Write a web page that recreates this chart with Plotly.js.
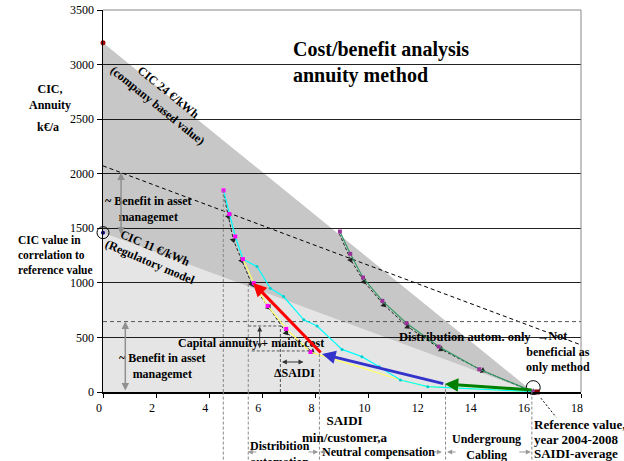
<!DOCTYPE html>
<html><head><meta charset="utf-8">
<script src="https://cdn.plot.ly/plotly-3.0.1.min.js"></script>
<style>html,body{margin:0;padding:0;background:#fff}#chart{width:624px;height:461px}</style>
</head><body><div id="chart"></div>
<script>
// ---- data ----
const xTickVals = [0, 2, 4, 6, 8, 10, 12, 14, 16, 18];
const yTickVals = [0, 500, 1000, 1500, 2000, 2500, 3000, 3500];
const refSaidi = 16.2;
const cicX = [0, 16.2];
const cic24 = [3200, 0];
const cic11 = [1460, 0];
const benefitX = [0, 17.96];
const benefitY = [2072, 435];
const benefitLevelX = [0, 18];
const benefitLevelY = [645, 645];

const leftX = [4.54, 4.76, 4.98, 5.27, 5.68, 6.2, 6.9, 7.81];
const leftY = [1847, 1630, 1425, 1217, 997, 789, 578, 367];
const yellowX = [5.27, 5.68, 6.2, 6.9, 7.81, 8.2, 9.7, 11.2, 12.23, 16.2];
const yellowY = [1217, 997, 789, 578, 367, 335, 225, 110, 49, 2];
const cyanX = [4.54, 4.76, 4.98, 5.27, 5.8, 6.3, 6.8, 7.56, 8.06, 9.0, 9.75, 10.4, 11.2, 12.23, 16.2];
const cyanY = [1847, 1630, 1425, 1217, 1150, 951, 875, 661, 605, 390, 324, 232, 110, 49, 3];
const greenX = [8.92, 9.31, 9.79, 10.52, 11.43, 12.64, 14.17, 16.2];
const greenY = [1470, 1266, 1049, 835, 630, 416, 208, 3];
const pathLeftX = [4.51, 4.73, 4.91, 5.23, 5.6, 6.24, 6.9, 7.88];
const pathLeftY = [1851, 1607, 1393, 1203, 990, 776, 543, 369];
const pathRightX = [8.9, 9.33, 9.83, 10.58, 11.47, 12.73, 14.3, 16.2];
const pathRightY = [1450, 1210, 1011, 797, 599, 391, 195, 0];

const stepX = [16.2, 12.87, 8.25, 5.65];
const stepY = [18, 73, 348, 1000];
const stepColors = ['#008000', '#3333cc', '#ff0000'];

const guideX = [4.53, 5.47, 8.15, 12.9, 16.15];
const guideTop = [1850, 1000, 367, 70, 0];

const annuityX = [5.47, 6.79];      // upper bracket line
const annuityTopY = 605;
const annuityLowX = [5.6, 7.8];     // lower bracket line
const annuityLowY = 376;
const annuityArrowX = 5.9;
const dSaidiX = [6.68, 7.55];
const dSaidiY = 275;

const FONT = 'Liberation Serif, Times New Roman, serif';

// ---- traces ----
const traces = [
  {x: cicX, y: cic11, mode: 'lines', fill: 'tozeroy', fillcolor: 'rgba(0,0,0,0.1)', line: {width: 0}, hoverinfo: 'skip'},
  {x: cicX, y: cic24, mode: 'lines', fill: 'tonexty', fillcolor: 'rgba(0,0,0,0.22)', line: {width: 0}, hoverinfo: 'skip'},
  {x: benefitX, y: benefitY, mode: 'lines', line: {color: '#000', width: 1, dash: '4px,3px'}},
  {x: benefitLevelX, y: benefitLevelY, mode: 'lines', line: {color: '#555', width: 1, dash: '4px,3px'}},
  {x: pathLeftX, y: pathLeftY, mode: 'lines+markers', line: {color: '#222', width: 1, dash: '3px,2px'},
   marker: {symbol: 'triangle-up', size: 6, color: '#222', angleref: 'previous'}},
  {x: pathRightX, y: pathRightY, mode: 'lines+markers', line: {color: '#222', width: 1, dash: '3px,2px'},
   marker: {symbol: 'triangle-up', size: 6, color: '#222', angleref: 'previous'}},
  {x: yellowX, y: yellowY, mode: 'lines', line: {color: '#ffff66', width: 1.2}},
  {x: cyanX, y: cyanY, mode: 'lines+markers', line: {color: '#00ffff', width: 1.2},
   marker: {size: 3, color: '#00cccc'}},
  {x: greenX, y: greenY, mode: 'lines+markers', line: {color: '#339966', width: 1.2},
   marker: {symbol: 'square', size: 4, color: '#993399'}},
  {x: leftX, y: leftY, mode: 'markers', marker: {symbol: 'square', size: 4, color: '#ff00ff'}},
  {x: [cicX[0]], y: [cic24[0]], mode: 'markers', cliponaxis: false, marker: {size: 5, color: '#a00000'}},
  {x: [cicX[0]], y: [cic11[0]], mode: 'markers', cliponaxis: false,
   marker: {size: 12, color: 'rgba(0,0,0,0)', line: {color: '#000', width: 1}}},
  {x: [cicX[0]], y: [cic11[0]], mode: 'markers', cliponaxis: false, marker: {size: 4, color: '#000080'}},
  {x: [refSaidi], y: [40], mode: 'markers', cliponaxis: false,
   marker: {size: 14, color: 'rgba(0,0,0,0)', line: {color: '#000', width: 1}}},
  {x: [refSaidi + 0.15], y: [0], mode: 'markers', cliponaxis: false, marker: {symbol: 'square', size: 5, color: '#800000'}}
];

// ---- shapes ----
const shapes = [];
guideX.forEach((gx, i) => {
  if (guideTop[i] > 0) {
    shapes.push({type: 'line', xref: 'x', yref: 'y', x0: gx, x1: gx, y0: 0, y1: guideTop[i],
      line: {color: '#888', width: 1, dash: '3px,2px'}, layer: 'above'});
  }
  shapes.push({type: 'line', xref: 'x', yref: 'paper', x0: gx, x1: gx, y0: -0.19, y1: 0,
    line: {color: '#888', width: 1, dash: '3px,2px'}, layer: 'above'});
});
shapes.push({type: 'line', xref: 'x', yref: 'y', x0: annuityX[0], x1: annuityX[1], y0: annuityTopY, y1: annuityTopY,
  line: {color: '#555', width: 1, dash: '3px,2px'}});
shapes.push({type: 'line', xref: 'x', yref: 'y', x0: annuityLowX[0], x1: annuityLowX[1], y0: annuityLowY, y1: annuityLowY,
  line: {color: '#555', width: 1, dash: '3px,2px'}});
shapes.push({type: 'line', xref: 'x', yref: 'y', x0: dSaidiX[0], x1: dSaidiX[0], y0: 0, y1: annuityTopY,
  line: {color: '#555', width: 1, dash: '3px,2px'}});
// plot border (top/right, grey)
shapes.push({type: 'line', xref: 'paper', yref: 'paper', x0: 1, x1: 1, y0: 0, y1: 1, line: {color: '#888', width: 1}});
shapes.push({type: 'line', xref: 'paper', yref: 'paper', x0: 0, x1: 1, y0: 1, y1: 1, line: {color: '#888', width: 1}});
// pointer from reference circle to its label
shapes.push({type: 'line', xref: 'paper', yref: 'paper', x0: 0.916, y0: -0.016, x1: 0.948, y1: -0.066,
  line: {color: '#000', width: 1, dash: '2px,2px'}});

// ---- annotations ----
const ann = [];
function txt(text, x, y, opt) {
  const o = opt || {};
  const size = o.size || 12;
  delete o.size;
  ann.push(Object.assign({text: text, x: x, y: y, xref: 'paper', yref: 'paper', showarrow: false,
    xanchor: 'center', yanchor: 'middle', font: {family: FONT, size: size, color: '#000'}}, o));
}
txt('<b>Cost/benefit analysis<br>annuity method</b>', 0.393, 0.862, {xanchor: 'left', align: 'left', size: 20});
txt('<b>CIC,<br>Annuity</b>', -0.111, 0.771);
txt('<b>k€/a</b>', -0.115, 0.694);
txt('<b>CIC 24 €/kWh</b>', 0.136, 0.785, {textangle: 39});
txt('<b>(company based value)</b>', 0.113, 0.751, {textangle: 39});
txt('<b>CIC 11 €/kWh</b>', 0.109, 0.377, {textangle: 23});
txt('<b>(Regulatory model</b>', 0.098, 0.340, {textangle: 23});
txt('<b>~ Benefit in asset<br>managemet</b>', 0.096, 0.478);
txt('<b>~ Benefit in asset<br>managemet</b>', 0.1255, 0.069);
txt('<b>CIC value in<br>correlation to<br>reference value</b>', -0.182, 0.358, {xanchor: 'left', align: 'left', size: 11.5});
txt('<b>Capital annuity + maint.cost</b>', 0.3086, 0.128);
txt('<b>ΔSAIDI</b>', 0.3996, 0.050);
txt('<b>Distribution autom. only  →</b>', 0.615, 0.144, {xanchor: 'left', size: 12.5});
txt('<b>Not<br>beneficial as<br>only method</b>', 0.952, 0.106);
txt('<b>SAIDI<br>min/customer,a</b>', 0.506, -0.097, {size: 13});
txt('<b>Distribition<br>automation</b>', 0.370, -0.118, {yanchor: 'top'});
txt('<b>Neutral compensation</b>', 0.577, -0.157);
txt('<b>Undergroung<br>Cabling</b>', 0.803, -0.144);
txt('<b>Reference value,</b>', 0.8975, -0.086, {xanchor: 'left', size: 13});
txt('<b>year 2004-2008</b>', 0.8975, -0.124, {xanchor: 'left', size: 13});
txt('<b>SAIDI-average</b>', 0.8975, -0.162, {xanchor: 'left', size: 13});

// thick step arrows (green, blue, red)
for (let i = 0; i < 3; i++) {
  ann.push({text: '', xref: 'x', yref: 'y', axref: 'x', ayref: 'y',
    x: stepX[i + 1], y: stepY[i + 1], ax: stepX[i], ay: stepY[i],
    showarrow: true, arrowhead: 2, arrowsize: 0.9, arrowwidth: 3, arrowcolor: stepColors[i]});
}
// double arrows
function dbl(x, y, ax, ay, color, w, size) {
  ann.push({text: '', xref: 'x', yref: 'y', axref: 'x', ayref: 'y', x: x, y: y, ax: ax, ay: ay,
    showarrow: true, arrowhead: 2, arrowside: 'end+start', arrowsize: size, arrowwidth: w, arrowcolor: color});
}
dbl(0.68, benefitY[0] - 0.68 * 91, 0.68, cic11[0] - 0.68 * 90 + 30, '#909090', 1.5, 1);
dbl(0.84, benefitLevelY[0], 0.84, 0, '#909090', 1.5, 1);
dbl(annuityArrowX, annuityTopY - 5, annuityArrowX, annuityLowY + 10, '#333', 1, 1);
dbl(dSaidiX[1], dSaidiY, dSaidiX[0], dSaidiY, '#333', 1, 1);

// small grey arrows below the axis
const belowArrows = [[0.303, 10], [0.450, -11], [0.454, 7], [0.709, -9], [0.720, 10], [0.895, -13]];
belowArrows.forEach(a => {
  ann.push({text: '', xref: 'paper', yref: 'paper', x: a[0], y: -0.157, ax: a[1], ay: 0,
    showarrow: true, arrowhead: 2, arrowsize: 1, arrowwidth: 1, arrowcolor: '#999'});
});

const layout = {
  width: 624, height: 461,
  margin: {l: 103, r: 43, t: 10, b: 69},
  paper_bgcolor: '#fff', plot_bgcolor: '#fff',
  showlegend: false,
  font: {family: FONT, size: 12, color: '#000'},
  xaxis: {range: [0, 18], tickvals: xTickVals, ticktext: xTickVals.map(String),
    showgrid: false, zeroline: false, showline: true, linecolor: '#000', linewidth: 1.5,
    ticks: 'outside', ticklen: 4, tickcolor: '#000', ticklabelshift: -4,
    tickfont: {family: FONT, size: 12, color: '#000'}, fixedrange: true},
  yaxis: {range: [0, 3500], tickvals: yTickVals, ticktext: yTickVals.map(String),
    showgrid: true, gridcolor: '#222', gridwidth: 1, zeroline: false,
    showline: true, linecolor: '#000', linewidth: 1.5,
    ticks: 'outside', ticklen: 5, tickcolor: '#000',
    tickfont: {family: FONT, size: 12, color: '#000'}, fixedrange: true},
  shapes: shapes,
  annotations: ann
};

Plotly.newPlot('chart', traces, layout, {displayModeBar: false, staticPlot: true});
</script>
</body></html>
